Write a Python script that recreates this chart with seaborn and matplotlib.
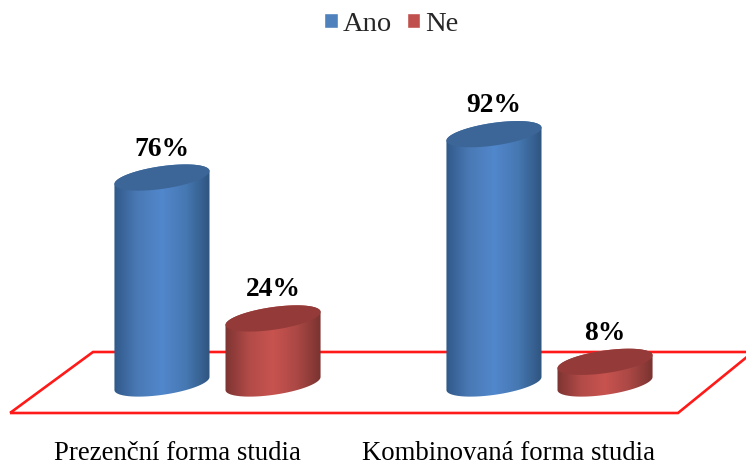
import numpy as np
import pandas as pd
import matplotlib
matplotlib.use("Agg")
import matplotlib.pyplot as plt
from matplotlib.colors import LinearSegmentedColormap
from matplotlib.path import Path
from matplotlib.patches import PathPatch, Polygon
import seaborn as sns

forms = ["Prezenční forma studia", "Kombinovaná forma studia"]
answers = ["Ano", "Ne"]
yes_share = [76, 92]
no_share = [24, 8]

W, H = 746, 468
BASE_PX, PX_PER_PCT = 383.5, 2.71      # value axis: pixel row of 0 %, pixels per 1 %
GROUP0_PX, GROUP_PITCH = 217.5, 332.0  # category axis: pixel column of group 0, pitch

df = pd.DataFrame({
    "forma": forms * 2,
    "odpoved": [answers[0]] * 2 + [answers[1]] * 2,
    "podil": yes_share + no_share,
})

sns.set_theme(style="white")
plt.rcParams["font.family"] = ["Liberation Serif", "DejaVu Serif"]

fig = plt.figure(figsize=(W / 100, H / 100), dpi=100)
ax = fig.add_axes([0, 0, 1, 1])

palette = {"Ano": "#4F81BD", "Ne": "#C0504D"}
sns.barplot(data=df, x="forma", y="podil", hue="odpoved", order=forms,
            hue_order=answers, palette=palette, width=0.669, gap=0.144,
            saturation=1, ax=ax)

xlim = ((0 - GROUP0_PX) / GROUP_PITCH, (W - GROUP0_PX) / GROUP_PITCH)
ylim = ((BASE_PX - H) / PX_PER_PCT, BASE_PX / PX_PER_PCT)


def px_x(p):
    return (p - GROUP0_PX) / GROUP_PITCH


def px_y(p):
    return (BASE_PX - p) / PX_PER_PCT


# tilted ellipse outline in data units, angle in radians
def ellipse_xy(cx, cy, half_w, t):
    b, s = 11.4 / PX_PER_PCT, 6.5 / PX_PER_PCT
    return cx + half_w * np.cos(t), cy + b * np.sin(t) + s * np.cos(t)


# floor of the plot, drawn beneath the cylinders
floor = [(10, 413), (93, 352), (753, 352), (678, 413)]
ax.add_patch(Polygon([(px_x(a), px_y(b)) for a, b in floor], closed=True,
                     fill=False, edgecolor="#FF1A1A", linewidth=1.9,
                     joinstyle="miter", zorder=1))

shades = {
    "Ano": (["#31598A", "#4A7AB6", "#5187CC", "#4678B2", "#2F5580"], "#3C6697"),
    "Ne": (["#7C3432", "#B24B48", "#C8534F", "#AB4845", "#7A3331"], "#943B39"),
}

ramp = np.linspace(0, 1, 256).reshape(1, -1)
for answer, container in zip(answers, ax.containers):
    stops, cap_color = shades[answer]
    cmap = LinearSegmentedColormap.from_list(answer, stops)
    for bar in container:
        bar.set_visible(False)
        x0, w, h = bar.get_x(), bar.get_width(), bar.get_height()
        cx, hw = x0 + w / 2, w / 2

        # side of the cylinder: lower half of the base ellipse, then up and across
        t_low = np.linspace(np.pi, 2 * np.pi, 60)
        t_up = np.linspace(0, np.pi, 60)
        bx, by = ellipse_xy(cx, 0, hw, t_low)
        tx, ty = ellipse_xy(cx, h, hw, t_up)
        verts = np.column_stack([np.r_[bx, tx], np.r_[by, ty]])
        codes = [Path.MOVETO] + [Path.LINETO] * (len(verts) - 1)
        body = PathPatch(Path(verts, codes), transform=ax.transData,
                         facecolor="none", edgecolor="none")
        ax.add_patch(body)
        img = ax.imshow(ramp, cmap=cmap, aspect="auto", zorder=3,
                        extent=(x0, x0 + w, -10, h + 10))
        img.set_clip_path(body)

        # cap of the cylinder
        cap_t = np.linspace(0, 2 * np.pi, 120)
        ax.fill(*ellipse_xy(cx, h, hw, cap_t), color=cap_color, lw=0, zorder=4)

        ax.annotate(f"{h:.0f}%", (cx, h), xytext=(0, 11.5), textcoords="offset points",
                    ha="center", va="bottom", fontsize=19.8, fontweight="bold",
                    color="black", zorder=5)

ax.set_xlim(*xlim)
ax.set_ylim(*ylim)
ax.set_axis_off()

# category names sit left of their groups, under the floor
label_px = [177, 508]
for name, p in zip(forms, label_px):
    ax.text(px_x(p), px_y(454), name, ha="center", va="center",
            fontsize=19.3, color="black")

handles, labels = ax.get_legend_handles_labels()
ax.legend(handles, labels, ncols=2, loc="upper center",
          bbox_to_anchor=(391.5 / W, 1 + 14 / H), frameon=False, fontsize=20.5,
          handlelength=0.48, handleheight=0.48, handletextpad=0.18,
          columnspacing=0.5)

fig.savefig("out.png", dpi=100)
